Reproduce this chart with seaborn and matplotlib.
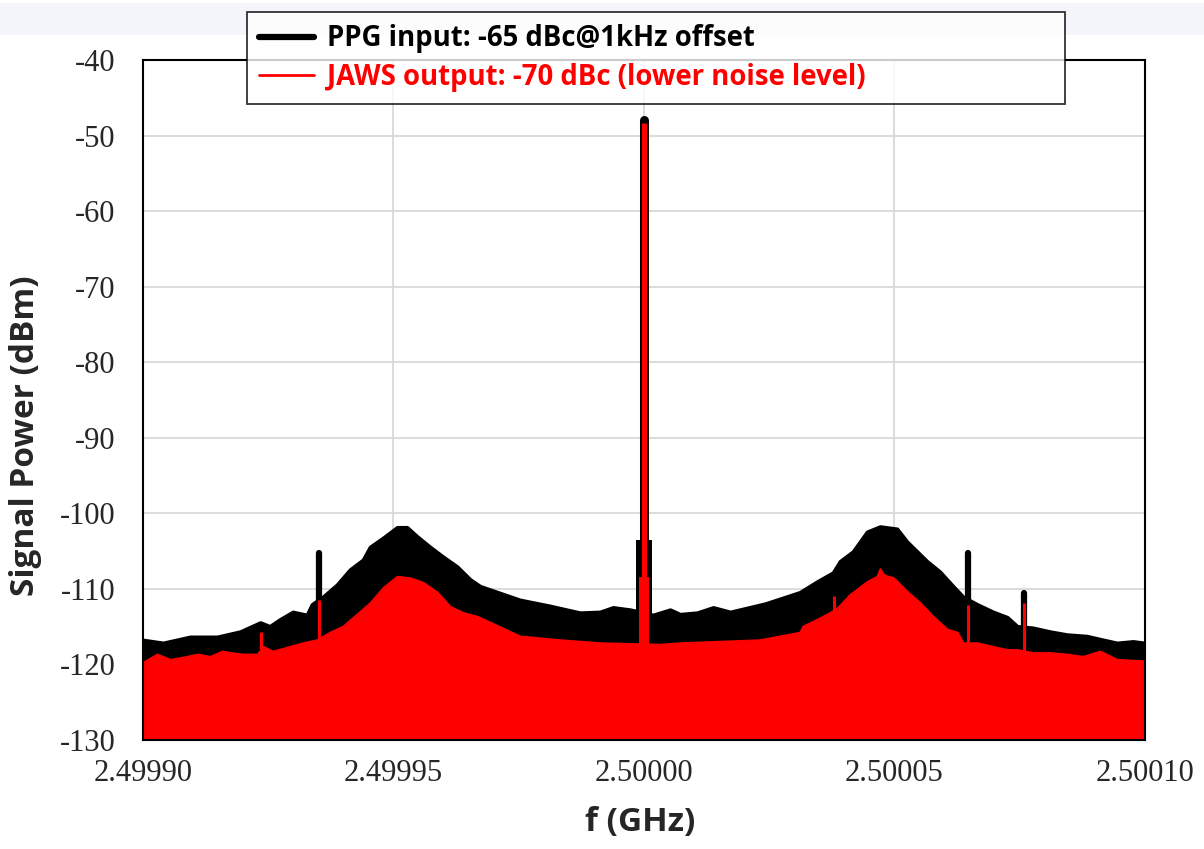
import numpy as np
import pandas as pd
import matplotlib
matplotlib.use("Agg")
import matplotlib.pyplot as plt
from matplotlib.lines import Line2D
from matplotlib.patches import Rectangle
import seaborn as sns

# offsets from the 2.5 GHz carrier in kHz, upper edge of the noise floor in dBm
ppg_khz = [-100.0, -95.9, -90.5, -85.1, -80.5, -76.5, -74.6, -72.6, -70.0, -67.2,
           -66.2, -64.0, -61.2, -58.6, -56.0, -54.6, -52.0, -49.2, -47.2, -45.2,
           -42.6, -40.0, -37.2, -34.6, -32.6, -24.7, -18.7, -12.7, -8.7, -6.1,
           -2.7, 1.9, 5.3, 7.3, 10.7, 13.9, 17.3, 24.3, 31.2, 34.6,
           37.8, 39.2, 41.8, 44.6, 47.2, 50.6, 52.6, 54.6, 56.6, 59.2,
           61.8, 63.8, 66.6, 69.8, 72.6, 74.6, 77.7, 81.1, 84.5, 88.5,
           91.1, 94.5, 97.7, 100.0]
ppg_dbm = [-116.8, -117.2, -116.4, -116.4, -115.7, -114.5, -115.0, -114.1, -113.1, -113.5,
           -112.1, -111.1, -109.5, -107.5, -106.2, -104.5, -103.3, -101.9, -101.9, -103.1,
           -104.5, -105.8, -107.1, -108.8, -109.7, -111.5, -112.3, -113.2, -113.1, -112.5,
           -112.8, -113.5, -112.8, -113.4, -113.2, -112.5, -113.1, -112.0, -110.5, -109.1,
           -107.9, -106.4, -105.1, -102.5, -101.8, -102.1, -103.8, -105.1, -106.4, -107.8,
           -109.7, -111.1, -112.1, -113.1, -113.8, -115.0, -115.2, -115.7, -116.1, -116.3,
           -116.7, -117.2, -117.0, -117.2]

jaws_khz = [-100.0, -97.1, -94.5, -91.9, -89.1, -86.5, -84.1, -82.5, -79.9, -77.1,
            -75.9, -74.0, -71.2, -68.0, -65.2, -62.6, -60.0, -57.2, -54.6, -52.0,
            -49.2, -46.6, -44.0, -41.2, -38.6, -36.0, -33.2, -24.7, -16.7, -8.7,
            -2.7, 3.3, 7.3, 15.3, 23.2, 31.2, 31.8, 34.6, 37.2, 38.8,
            41.2, 42.6, 44.6, 46.6, 47.2, 47.9, 49.9, 52.6, 55.2, 57.8,
            60.6, 62.6, 63.8, 66.6, 69.8, 72.6, 74.6, 77.7, 81.1, 84.5,
            87.7, 91.1, 94.5, 100.0]
jaws_dbm = [-119.8, -118.7, -119.4, -119.1, -118.7, -119.0, -118.3, -118.5, -118.7, -118.7,
            -117.7, -118.3, -117.8, -117.2, -116.8, -115.8, -115.0, -113.4, -111.9, -109.9,
            -108.4, -108.6, -109.2, -110.5, -112.4, -113.2, -113.7, -116.3, -116.8, -117.2,
            -117.3, -117.4, -117.2, -117.0, -116.8, -115.8, -115.0, -114.1, -113.2, -112.5,
            -110.8, -110.1, -109.1, -108.4, -107.4, -108.2, -108.6, -110.4, -111.9, -113.7,
            -115.4, -115.8, -117.2, -117.2, -117.7, -118.1, -118.1, -118.5, -118.5, -118.7,
            -119.0, -118.3, -119.4, -119.6]

# discrete spurs
spur_khz = [-64.9, 64.7, 75.8]
spur_ppg = [-105.3, -105.3, -110.5]
spur_jaws = [-111.5, -112.1, -111.9]
red_spur_khz = [-76.4, 38.0]
red_spur_dbm = [-115.7, -111.0]

# carrier and its close-in skirt
carrier_ppg = -48.0
carrier_jaws = -48.3
skirt_ppg_khz = [-1.5, 1.5]
skirt_ppg = -103.5
skirt_jaws_khz = [-1.0, 1.0]
skirt_jaws = -108.4

f0_ghz = 2.5
y_min, y_max = -130, -40
y_ticks = list(range(-130, -39, 10))
x_ticks = [2.49990, 2.49995, 2.50000, 2.50005, 2.50010]

legend_labels = ["PPG input: -65 dBc@1kHz offset",
                 "JAWS output: -70 dBc (lower noise level)"]

BLACK = "black"
RED = "#ff0000"


def to_ghz(khz):
    return f0_ghz + np.asarray(khz, dtype=float) * 1e-6


sns.set_style("white")
plt.rcParams["font.family"] = ["Open Sans", "DejaVu Sans"]

fig = plt.figure(figsize=(12.04, 8.49), dpi=100)
fig.patches.append(Rectangle((0, 1 - 35 / 849), 1, 32 / 849, transform=fig.transFigure,
                             facecolor="#f3f5fa", edgecolor="none", zorder=-10))
ax = fig.add_axes([143 / 1204, 1 - 740 / 849, 1002 / 1204, 680 / 849])

df = pd.concat([
    pd.DataFrame({"f_ghz": to_ghz(ppg_khz), "dbm": ppg_dbm, "trace": "PPG"}),
    pd.DataFrame({"f_ghz": to_ghz(jaws_khz), "dbm": jaws_dbm, "trace": "JAWS"}),
], ignore_index=True)
ppg = df[df.trace == "PPG"]
jaws = df[df.trace == "JAWS"]

ax.grid(True, color="#d9d9d9", lw=1.3, zorder=0)
ax.set_axisbelow(True)

# black input trace
ax.fill_between(ppg.f_ghz, y_min, ppg.dbm, color=BLACK, lw=0, zorder=2)
sns.lineplot(data=ppg, x="f_ghz", y="dbm", color=BLACK, lw=2.5, ax=ax,
             legend=False, zorder=2)
ax.fill_between(to_ghz(skirt_ppg_khz), y_min, skirt_ppg, color=BLACK, lw=0, zorder=2)
ax.vlines(to_ghz(spur_khz), y_min, spur_ppg, color=BLACK, lw=4.5, zorder=2,
          capstyle="round")
ax.vlines(to_ghz([0]), y_min, carrier_ppg, color=BLACK, lw=6.5, zorder=2,
          capstyle="round")

# red output trace
ax.fill_between(jaws.f_ghz, y_min, jaws.dbm, color=RED, lw=0, zorder=3)
sns.lineplot(data=jaws, x="f_ghz", y="dbm", color=RED, lw=1.5, ax=ax,
             legend=False, zorder=3)
ax.fill_between(to_ghz(skirt_jaws_khz), y_min, skirt_jaws, color=RED, lw=0, zorder=3)
ax.vlines(to_ghz(spur_khz), y_min, spur_jaws, color=RED, lw=2.2, zorder=3)
ax.vlines(to_ghz(red_spur_khz), y_min, red_spur_dbm, color=RED, lw=2.2, zorder=3)
ax.vlines(to_ghz([0]), y_min, carrier_jaws, color=RED, lw=3.6, zorder=4)

ax.set_xlim(x_ticks[0], x_ticks[-1])
ax.set_ylim(y_min, y_max)
ax.set_xticks(x_ticks)
ax.set_xticklabels([f"{t:.5f}" for t in x_ticks])
ax.set_yticks(y_ticks)
ax.set_yticklabels([str(t) for t in y_ticks])
ax.tick_params(length=0, labelsize=22)
ax.tick_params(axis="y", pad=20)
ax.tick_params(axis="x", pad=14)
for lab in ax.get_xticklabels() + ax.get_yticklabels():
    lab.set_family(["Liberation Serif", "DejaVu Serif"])

for sp in ax.spines.values():
    sp.set_color(BLACK)
    sp.set_linewidth(1.5)
    sp.set_zorder(5)

ax.set_xlabel("f (GHz)", fontsize=24, fontweight="bold")
ax.set_ylabel("Signal Power (dBm)", fontsize=24, fontweight="bold")
ax.xaxis.set_label_coords((640 - 143) / 1002, (740 - 806) / 680)
ax.yaxis.set_label_coords((42 - 143) / 1002, (740 - 436) / 680)

handles = [Line2D([], [], color=BLACK, lw=4.5),
           Line2D([], [], color=RED, lw=2.0)]
leg = ax.legend(handles, legend_labels, loc="upper left", mode="expand",
                bbox_to_anchor=(247 / 1204, 1 - 103 / 849, 818 / 1204, 91 / 849),
                bbox_transform=fig.transFigure, borderaxespad=0,
                frameon=True, fancybox=False,
                labelcolor="linecolor", handlelength=2.0, handletextpad=0.45,
                borderpad=0.45, labelspacing=0.34,
                prop={"family": "Open Sans", "weight": "bold", "size": 19.8})
leg.get_frame().set_edgecolor(BLACK)
leg.get_frame().set_linewidth(1.3)
leg.set_zorder(10)

fig.savefig("out.png", dpi=100, facecolor="white")
